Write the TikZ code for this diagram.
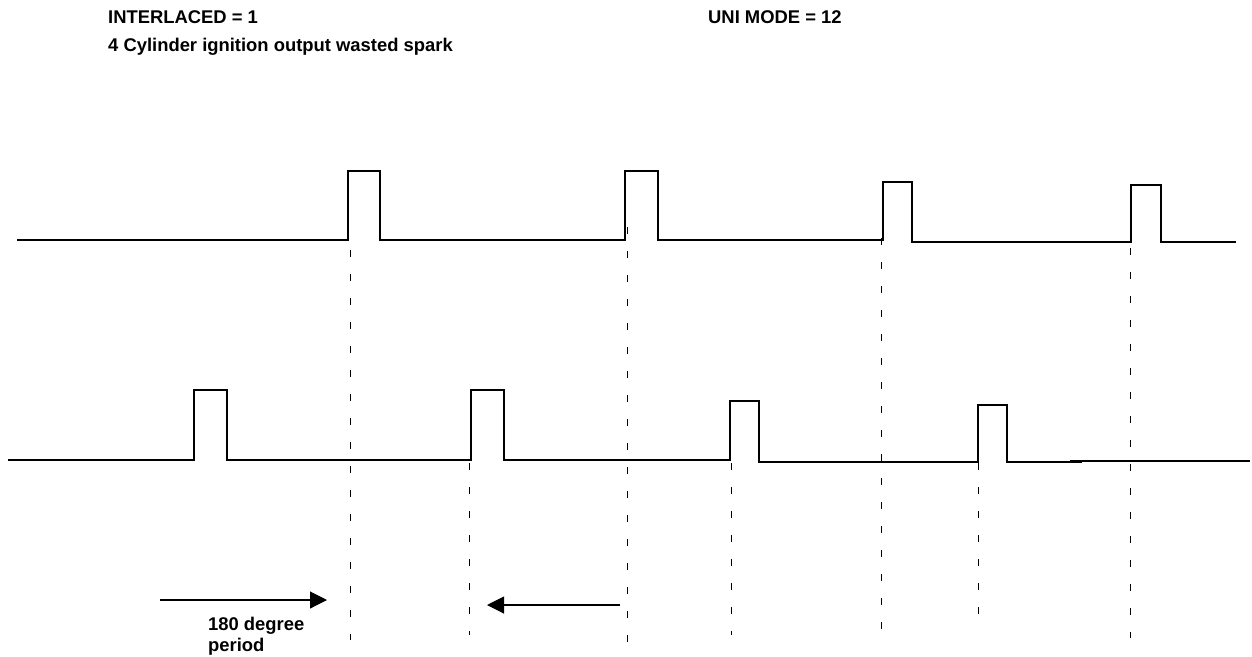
\documentclass[tikz,border=0pt]{standalone}
\usepackage{fontspec}
\setmainfont{Liberation Sans}
\usepackage{tikz}
\usetikzlibrary{positioning, arrows.meta}
\tikzset{
  % signal trace
  wave/.style={line width=1.1pt, color=black, line join=miter},
  % vertical timing guide
  guide/.style={line width=1pt, color=black, dash pattern=on 7pt off 17pt},
  % period arrow
  arr/.style={-{Triangle[length=17pt, width=17pt]}, line width=1.1pt, color=black},
  % text labels
  lbl/.style={anchor=base west, inner sep=0pt, font=\fontsize{18.4}{21}\selectfont\bfseries, align=left},
}
\begin{document}
\begin{tikzpicture}[x=1pt, y=-1pt]
  \useasboundingbox (0,0) rectangle (1252,656);
  % headings
  \node[lbl] (mode) at (108,23) {INTERLACED = 1};
  \node[lbl] (uni)  at (708,23) {UNI MODE = 12};
  \node[lbl] (title) at (108,51) {4 Cylinder ignition output wasted spark};
  % cylinder 1/4 output
  \draw[wave] (17,240) -- (348,240) -- (348,171) -- (380,171) -- (380,240)
    -- (625,240) -- (625,171) -- (658,171) -- (658,240) -- (883,240)
    -- (883,182) -- (912,182) -- (912,242) -- (1131,242) -- (1131,185)
    -- (1161,185) -- (1161,242) -- (1236,242);
  % cylinder 2/3 output
  \draw[wave] (8,460) -- (194,460) -- (194,390) -- (227,390) -- (227,460)
    -- (471,460) -- (471,390) -- (504,390) -- (504,460) -- (730,460)
    -- (730,401) -- (759,401) -- (759,462) -- (978,462) -- (978,405)
    -- (1007,405) -- (1007,462) -- (1082,462);
  \draw[wave] (1070,461) -- (1250,461);
  % timing guides
  \foreach \x/\ya/\yb in {350/250/640, 627/227/645, 881/238/632, 1130/248/638,
                          469/463/635, 731/463/635, 978/463/630}
    \draw[guide] (\x,\ya) -- (\x,\yb);
  % 180 degree arrows
  \coordinate (fwdA) at (160,600);
  \coordinate (fwdB) at (327,600);
  \coordinate (bckA) at (620,605);
  \coordinate (bckB) at (487,605);
  \draw[arr] (fwdA) -- (fwdB);
  \draw[arr] (bckA) -- (bckB);
  \node[lbl] (period) at (208,651) {180 degree\\period};
\end{tikzpicture}
\end{document}
